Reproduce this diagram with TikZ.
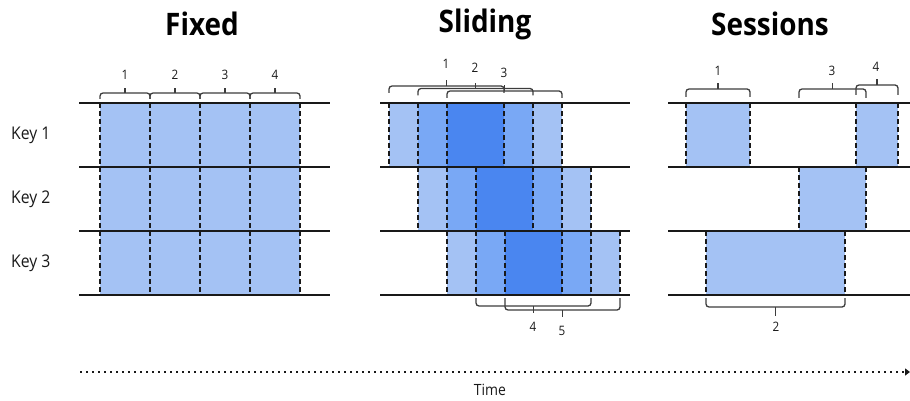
\documentclass[tikz,border=0pt]{standalone}
\usepackage{fontspec}
\setmainfont[FakeStretch=0.9]{Open Sans}
\usetikzlibrary{arrows.meta}
\definecolor{wl}{RGB}{164,194,244}
\definecolor{wm}{RGB}{121,168,245}
\definecolor{wd}{RGB}{74,134,240}
\definecolor{ln}{RGB}{25,25,25}
\tikzset{
  hline/.style={line width=2pt,draw=ln},
  dline/.style={line width=1.5pt,draw=ln,dash pattern=on 5pt off 3pt},
  brc/.style={line width=1.3pt,draw=ln!85,rounded corners=3pt},
  num/.style={font=\fontsize{13}{13}\selectfont,inner sep=0pt,text=ln},
  keylbl/.style={font=\fontsize{17.5}{17.5}\selectfont,inner sep=0pt,anchor=west,text=ln},
  ttl/.style={font=\fontsize{31}{31}\selectfont\bfseries,inner sep=0pt},
}
\newcommand\brk[5]{%
  \draw[brc] (#1,#4) -- (#1,#3) -- (#2,#3) -- (#2,#4);
  \draw[line width=1.3pt,draw=ln!85] ({(#1+#2)/2},#3) -- ({(#1+#2)/2},#5);}
\newcommand\wbox[4]{\fill[#4] (#1,#3) rectangle (#2,{#3+64});}
\begin{document}
\begin{tikzpicture}[x=1pt,y=-1pt]
\useasboundingbox (0,0) rectangle (910,401);
% titles
\node[ttl] (tf) at (202,24) {Fixed};
\node[ttl] (ts) at (485,24) {Sliding};
\node[ttl] (tss) at (770,24) {Sessions};
% keys
\node[keylbl] (k1) at (11,135) {Key 1};
\node[keylbl] (k2) at (11,199) {Key 2};
\node[keylbl] (k3) at (11,263) {Key 3};

% ---------- Fixed ----------
\fill[wl] (100,103) rectangle (300,295);
\foreach \x in {100,150,200,250,300} \draw[dline] (\x,103) -- (\x,295);
\foreach \y in {103,167,231,295} \draw[hline] (79,\y) -- (330,\y);
\foreach \a/\n in {100/1,150/2,200/3,250/4}{
  \brk{\a}{\a+50}{93}{99}{88}
  \node[num] (f\n) at (\a+25,75) {\n};
}

% ---------- Sliding ----------
% row 1
\wbox{389}{418}{103}{wl}\wbox{418}{447}{103}{wm}\wbox{447}{504}{103}{wd}\wbox{504}{533}{103}{wm}\wbox{533}{562}{103}{wl}
% row 2
\wbox{418}{447}{167}{wl}\wbox{447}{476}{167}{wm}\wbox{476}{533}{167}{wd}\wbox{533}{562}{167}{wm}\wbox{562}{591}{167}{wl}
% row 3
\wbox{447}{476}{231}{wl}\wbox{476}{505}{231}{wm}\wbox{505}{562}{231}{wd}\wbox{562}{591}{231}{wm}\wbox{591}{620}{231}{wl}
\foreach \x in {389,418,447,504,533,562} \draw[dline] (\x,103) -- (\x,167);
\foreach \x in {418,447,476,533,562,591} \draw[dline] (\x,167) -- (\x,231);
\foreach \x in {447,476,505,562,591,620} \draw[dline] (\x,231) -- (\x,295);
\foreach \y in {103,167,231,295} \draw[hline] (380,\y) -- (630,\y);
\brk{389}{504}{86}{93}{80}
\brk{418}{533}{88.5}{95.5}{83}
\brk{447}{562}{91}{98}{85}
\node[num] (s1) at (446,64) {1};
\node[num] (s2) at (475,68) {2};
\node[num] (s3) at (504,73) {3};
\brk{476}{591}{306}{298}{313}
\brk{505}{620}{310}{298}{317}
\node[num] (s4) at (533,327) {4};
\node[num] (s5) at (562,331) {5};

% ---------- Sessions ----------
\fill[wl] (686,103) rectangle (750,167);
\fill[wl] (856,103) rectangle (898,167);
\fill[wl] (799,167) rectangle (866,231);
\fill[wl] (706,231) rectangle (845,295);
\foreach \x in {686,750,856,898} \draw[dline] (\x,103) -- (\x,167);
\foreach \x in {799,866} \draw[dline] (\x,167) -- (\x,231);
\foreach \x in {706,845} \draw[dline] (\x,231) -- (\x,295);
\foreach \y in {103,167,231,295} \draw[hline] (668,\y) -- (912,\y);
\brk{686}{750}{89}{97}{83}
\brk{799}{866}{89}{98}{83}
\brk{856}{898}{85}{95}{79}
\brk{706}{845}{307}{298}{316}
\node[num] (e1) at (718,71) {1};
\node[num] (e3) at (832,71) {3};
\node[num] (e4) at (876,67) {4};
\node[num] (e2) at (776,327) {2};

% ---------- Time axis ----------
\coordinate (t0) at (80,372);
\coordinate (t1) at (910,372);
\draw[line width=1.6pt,draw=ln,dash pattern=on 1.6pt off 4.4pt,-{Triangle[length=5pt,width=7pt]}] (t0) -- (t1);
\node[font=\fontsize{15.5}{15.5}\selectfont,inner sep=0pt,text=ln] (time) at (490,390) {Time};
\end{tikzpicture}
\end{document}
